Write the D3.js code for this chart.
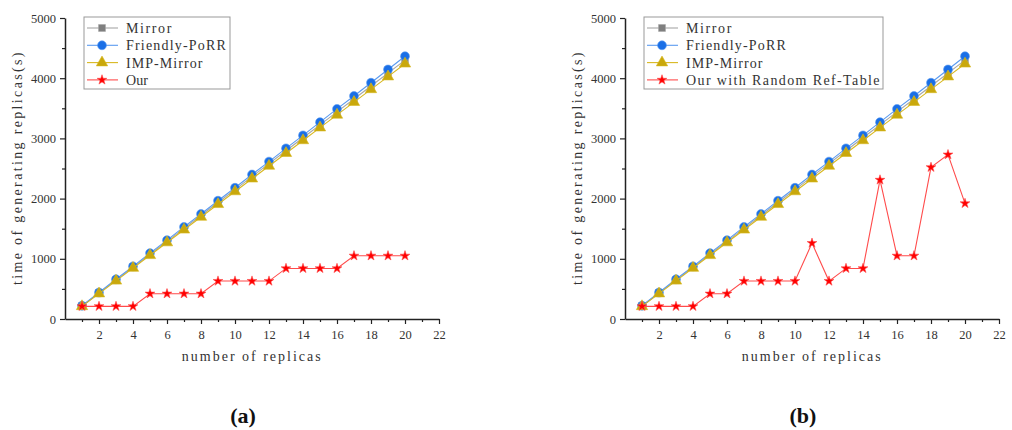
<!DOCTYPE html>
<html>
<head>
<meta charset="utf-8">
<script src="https://cdn.jsdelivr.net/npm/d3@7"></script>
<style>
  body { margin: 0; background: #fff; }
  svg { display: block; }
</style>
</head>
<body>
<svg id="chart" width="1012" height="430"></svg>
<script>
// replica counts on the x axis
const replicas = d3.range(1, 21);

// time of generating replicas (s)
const mirror   = [215, 430, 645, 860, 1075, 1290, 1505, 1720, 1935, 2150, 2365, 2580, 2795, 3010, 3225, 3440, 3655, 3870, 4085, 4300];
const friendly = [220, 440, 660, 875, 1095, 1310, 1530, 1745, 1965, 2180, 2400, 2615, 2835, 3050, 3270, 3490, 3705, 3925, 4145, 4365];
const impMirror = [210, 422, 634, 846, 1058, 1270, 1482, 1694, 1906, 2118, 2330, 2542, 2754, 2966, 3178, 3390, 3602, 3814, 4026, 4240];
const ourA = [210, 210, 210, 210, 420, 420, 420, 420, 630, 630, 630, 630, 840, 840, 840, 840, 1050, 1050, 1050, 1050];
const ourB = [210, 210, 210, 210, 420, 420, 630, 630, 630, 630, 1260, 630, 840, 840, 2310, 1050, 1050, 2520, 2730, 1920];

const yTicks = [0, 1000, 2000, 3000, 4000, 5000];
const xTicks = [2, 4, 6, 8, 10, 12, 14, 16, 18, 20, 22];

const svg = d3.select("#chart");
const labelFont = "'Liberation Serif', 'Times New Roman', serif";
const numFont = "'Liberation Serif', 'Times New Roman', serif";
const charW = 7.8; // monospaced look: fixed advance per character

// serif text stretched to a fixed per-char width, like the original's mono font
function monoText(sel, str) {
    return sel.attr("font-family", labelFont)
        .attr("font-size", "14px")
        .attr("fill", "#333")
        .attr("textLength", str.length * charW - 1.5)
        .attr("lengthAdjust", "spacing")
        .text(str);
}

function drawPanel(offsetX, ourValues, ourName, caption) {
    const x = d3.scaleLinear().domain([0, 22]).range([offsetX + 65, offsetX + 439]);
    const y = d3.scaleLinear().domain([0, 5000]).range([319, 18]);
    const g = svg.append("g");

    // minor ticks
    g.append("g")
        .attr("transform", "translate(" + (offsetX + 65) + ",0)")
        .call(d3.axisLeft(y).tickValues(d3.range(500, 5000, 1000)).tickSize(3).tickFormat(""))
        .call(a => a.select(".domain").remove());
    g.append("g")
        .attr("transform", "translate(0,319)")
        .call(d3.axisBottom(x).tickValues(d3.range(1, 22, 2)).tickSize(3).tickFormat(""))
        .call(a => a.select(".domain").remove());

    g.append("g")
        .attr("transform", "translate(" + (offsetX + 65) + ",0)")
        .call(d3.axisLeft(y).tickValues(yTicks).tickFormat(d3.format("d")).tickSize(5).tickSizeOuter(0).tickPadding(4));
    g.append("g")
        .attr("transform", "translate(0,319)")
        .call(d3.axisBottom(x).tickValues(xTicks).tickFormat(d3.format("d")).tickSize(5).tickSizeOuter(0).tickPadding(6));

    g.selectAll(".domain").attr("stroke", "#222").attr("stroke-width", 1.5);
    g.selectAll(".tick line").attr("stroke", "#222").attr("stroke-width", 1.2);
    g.selectAll(".tick text")
        .attr("font-family", numFont)
        .attr("font-size", "12.5px")
        .attr("fill", "#333");

    const yTitle = "time of generating replicas(s)";
    g.append("text")
        .attr("transform", "translate(" + (offsetX + 22) + "," + (168 + yTitle.length * charW / 2) + ") rotate(-90)")
        .call(monoText, yTitle);

    const xTitle = "number of replicas";
    g.append("text")
        .attr("x", offsetX + 252 - xTitle.length * charW / 2)
        .attr("y", 361)
        .call(monoText, xTitle);

    g.append("text")
        .attr("x", offsetX + 243)
        .attr("y", 423)
        .attr("text-anchor", "middle")
        .attr("font-family", numFont)
        .attr("font-weight", "bold")
        .attr("font-size", "22px")
        .attr("fill", "#111")
        .text(caption);

    const series = [
        {name: "Mirror", values: mirror, line: "#a6a6a6", fill: "#7f7f7f", symbol: d3.symbolSquare, size: 48},
        {name: "Friendly-PoRR", values: friendly, line: "#5b9bf0", fill: "#1a6fe6", symbol: d3.symbolCircle, size: 62},
        {name: "IMP-Mirror", values: impMirror, line: "#d8b820", fill: "#c9a80c", symbol: d3.symbolTriangle, size: 56},
        {name: ourName, values: ourValues, line: "#ff4b4b", fill: "#ff0000", symbol: d3.symbolStar, size: 30}
    ];

    const line = d3.line().x((d, i) => x(replicas[i])).y(d => y(d));

    series.forEach(s => {
        g.append("path")
            .datum(s.values)
            .attr("d", line)
            .attr("fill", "none")
            .attr("stroke", s.line)
            .attr("stroke-width", 1.1);
        g.selectAll(null)
            .data(s.values)
            .enter()
            .append("path")
            .attr("transform", (d, i) => "translate(" + x(replicas[i]) + "," + y(d) + ")")
            .attr("d", d3.symbol().type(s.symbol).size(s.size))
            .attr("fill", s.fill)
            .attr("stroke", s.line)
            .attr("stroke-width", 0.6);
    });

    // legend
    const legendW = ourName.length > 10 ? 239 : 146;
    const leg = g.append("g").attr("transform", "translate(" + (offsetX + 84) + ",17)");
    leg.append("rect")
        .attr("width", legendW)
        .attr("height", 72)
        .attr("fill", "#fff")
        .attr("stroke", "#999")
        .attr("stroke-width", 1);
    series.forEach((s, i) => {
        const ly = 11 + i * 17.3;
        leg.append("line")
            .attr("x1", 3).attr("x2", 34)
            .attr("y1", ly).attr("y2", ly)
            .attr("stroke", s.line)
            .attr("stroke-width", 1.1);
        leg.append("path")
            .attr("transform", "translate(18," + ly + ")")
            .attr("d", d3.symbol().type(s.symbol).size(s.size))
            .attr("fill", s.fill)
            .attr("stroke", s.line)
            .attr("stroke-width", 0.6);
        leg.append("text")
            .attr("x", 42)
            .attr("y", ly + 5)
            .call(monoText, s.name);
    });
}

drawPanel(0, ourA, "Our", "(a)");
drawPanel(560, ourB, "Our with Random Ref-Table", "(b)");
</script>
</body>
</html>
